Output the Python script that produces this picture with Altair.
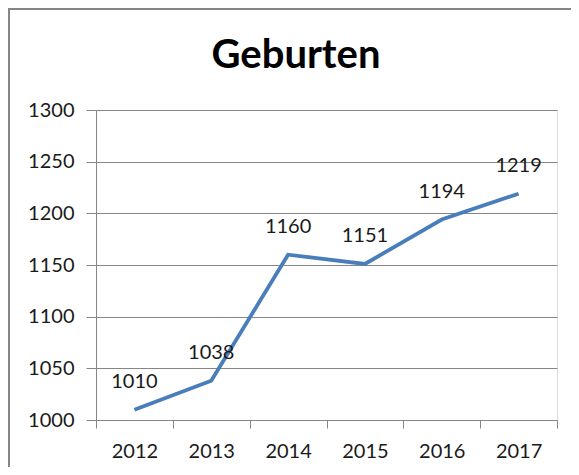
import altair as alt
import pandas as pd

years = ["2012", "2013", "2014", "2015", "2016", "2017"]
births = [1010, 1038, 1160, 1151, 1194, 1219]
y_ticks = [1000, 1050, 1100, 1150, 1200, 1250, 1300]
title_text = ["Geburten"]

df = pd.DataFrame({"Jahr": years, "Geburten": births})
df_title = pd.DataFrame({"t": title_text})

FONT = "Lato"
GRAY = "#868686"
TXT = "#1a1a1a"

x = alt.X(
    "Jahr:O",
    bandPosition=0.5,
    scale=alt.Scale(type="band", paddingInner=0, paddingOuter=0),
    axis=alt.Axis(
        title=None, labelAngle=0, tickBand="extent", domainColor=GRAY,
        tickColor=GRAY, tickSize=8, labelPadding=13, labelFontSize=20,
        labelFont=FONT, labelColor=TXT, grid=False,
    ),
)
y = alt.Y(
    "Geburten:Q",
    scale=alt.Scale(domain=[1000, 1300], nice=False, zero=False),
    axis=alt.Axis(
        title=None, values=y_ticks, format="d", grid=True, gridColor=GRAY,
        domainColor=GRAY, tickColor=GRAY, tickSize=10, labelPadding=12,
        labelFontSize=20, labelFont=FONT, labelColor=TXT,
    ),
)

base = alt.Chart(df_title)

frame_left = base.mark_rule(stroke=GRAY, strokeWidth=2, clip=False).encode(
    x=alt.value(-87), y=alt.value(-102), y2=alt.value(360)
)
frame_top = base.mark_rule(stroke=GRAY, strokeWidth=2, clip=False).encode(
    x=alt.value(-88), x2=alt.value(480), y=alt.value(-101)
)

title = base.mark_text(
    font=FONT, fontSize=40, fontWeight="bold", color="#000000",
    baseline="middle", align="center",
).encode(x=alt.value(200), y=alt.value(-54), text="t:N")

line = alt.Chart(df).mark_line(color="#4A7EBB", strokeWidth=3.8).encode(x=x, y=y)

labels = alt.Chart(df).mark_text(
    font=FONT, fontSize=20, color=TXT, baseline="middle", dy=-28
).encode(x=x, y=y, text=alt.Text("Geburten:Q"))

chart = (
    alt.layer(frame_left, frame_top, title, line, labels)
    .properties(
        width=461,
        height=310,
        autosize=alt.AutoSizeParams(type="none"),
        padding={"left": 88, "top": 102, "right": 14, "bottom": 47},
    )
    .configure_view(stroke=None)
    .configure(background="white")
)

chart.save("out.html", embed_options={"renderer": "svg", "actions": False})
